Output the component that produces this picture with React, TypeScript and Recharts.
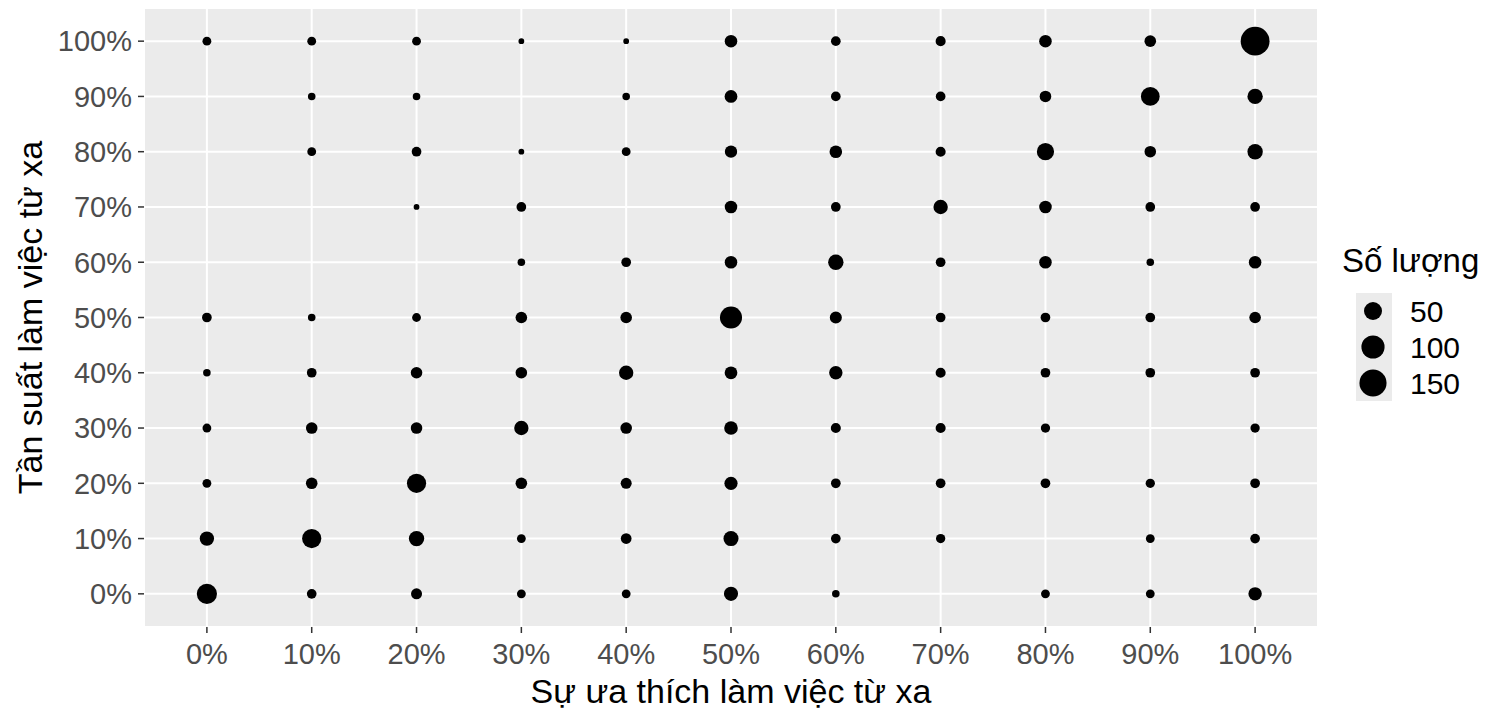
import { CartesianGrid, Label, Scatter, ScatterChart, XAxis, YAxis, ZAxis } from 'recharts';

// percent levels used on both axes
const levels = [0, 10, 20, 30, 40, 50, 60, 70, 80, 90, 100];

// respondent counts per preference level (x); each list runs over frequency 0%..100% (y)
const pref0 = [69, 25, 4, 4, 2, 6, null, null, null, null, 4];
const pref10 = [6, 60, 12, 12, 6, 2, null, null, 4, 2, 4];
const pref20 = [10, 31, 60, 12, 12, 4, null, 1, 6, 2, 4];
const pref30 = [4, 4, 12, 25, 12, 12, 2, 6, 1, null, 1];
const pref40 = [4, 9, 10, 12, 25, 12, 6, null, 4, 2, 1];
const pref50 = [24, 29, 19, 21, 17, 88, 16, 16, 15, 17, 16];
const pref60 = [2, 6, 6, 7, 20, 14, 31, 6, 16, 6, 6];
const pref70 = [null, 5, 6, 7, 7, 6, 6, 25, 7, 6, 7];
const pref80 = [4, null, 6, 5, 6, 6, 16, 16, 44, 12, 16];
const pref90 = [4, 4, 5, null, 6, 6, 2, 6, 12, 56, 12];
const pref100 = [20, 6, 6, 5, 6, 12, 16, 6, 31, 31, 175];

const legendValues = [50, 100, 150];

const columns = [pref0, pref10, pref20, pref30, pref40, pref50, pref60, pref70, pref80, pref90, pref100];

const points = columns.flatMap((col, i) =>
  col.flatMap((count, j) => (count == null ? [] : [{ pref: levels[i], freq: levels[j], count }]))
);

// ggplot-style size scale: diameter grows with the square root of the count
const diameter = (count: number) => 5.8 + 24 * Math.sqrt(Math.max(count - 1, 0) / 189);
const sizeKey = (p: { count: number }) => diameter(p.count) ** 2;

const FONT = '"Liberation Sans", Arial, sans-serif';
const tickStyle = { fill: '#4D4D4D', fontSize: 29, fontFamily: FONT };
const pct = (v: number) => `${v}%`;

const XTitle = ({ viewBox }: any) => {
  const x = viewBox ? viewBox.x + viewBox.width / 2 : 731;
  const y = viewBox ? viewBox.y + 76 : 703;
  return (
    <text x={x} y={y} textAnchor="middle" fontSize={34} fontFamily={FONT} fill="#000">
      Sự ưa thích làm việc từ xa
    </text>
  );
};

const YTitle = ({ viewBox }: any) => {
  const cy = viewBox ? viewBox.y + viewBox.height / 2 : 317;
  const x = 42;
  return (
    <text x={x} y={cy} transform={`rotate(-90, ${x}, ${cy})`} textAnchor="middle" fontSize={34} fontFamily={FONT} fill="#000">
      Tần suất làm việc từ xa
    </text>
  );
};

function SizeLegend() {
  return (
    <svg width={148} height={200} style={{ position: 'absolute', left: 1340, top: 230 }}>
      <text x={2} y={42} fontSize={33} fontFamily={FONT} fill="#000">
        Số lượng
      </text>
      <rect x={16} y={63} width={36} height={108} fill="#EBEBEB" />
      {legendValues.map((v, i) => (
        <g key={v}>
          <circle cx={33} cy={81 + i * 36} r={diameter(v) / 2} fill="#000" />
          <text x={70} y={92 + i * 36} fontSize={30} fontFamily={FONT} fill="#000">
            {v}
          </text>
        </g>
      ))}
    </svg>
  );
}

export default function App() {
  return (
    <div style={{ position: 'absolute', left: 0, top: 0, width: 1488, height: 720, background: '#fff' }}>
      <ScatterChart width={1488} height={720} margin={{ top: 8, right: 170, bottom: 0, left: 0 }}>
        <CartesianGrid fill="#EBEBEB" stroke="#FFFFFF" strokeWidth={2} />
        <XAxis
          type="number"
          dataKey="pref"
          domain={[-6, 106]}
          ticks={levels}
          interval={0}
          tickFormatter={pct}
          height={93}
          axisLine={false}
          tickLine={{ stroke: '#333333', strokeWidth: 1.5 }}
          tickSize={6}
          tickMargin={10}
          tick={tickStyle}
        >
          <Label content={<XTitle />} />
        </XAxis>
        <YAxis
          type="number"
          dataKey="freq"
          domain={[-6, 106]}
          ticks={levels}
          interval={0}
          tickFormatter={pct}
          width={144}
          axisLine={false}
          tickLine={{ stroke: '#333333', strokeWidth: 1.5 }}
          tickSize={6}
          tickMargin={6}
          tick={tickStyle}
        >
          <Label content={<YTitle />} />
        </YAxis>
        <ZAxis type="number" dataKey={sizeKey} domain={[0, 900]} range={[0, (900 * Math.PI) / 4]} />
        <Scatter data={points} fill="#000000" shape="circle" isAnimationActive={false} />
      </ScatterChart>
      <SizeLegend />
    </div>
  );
}
